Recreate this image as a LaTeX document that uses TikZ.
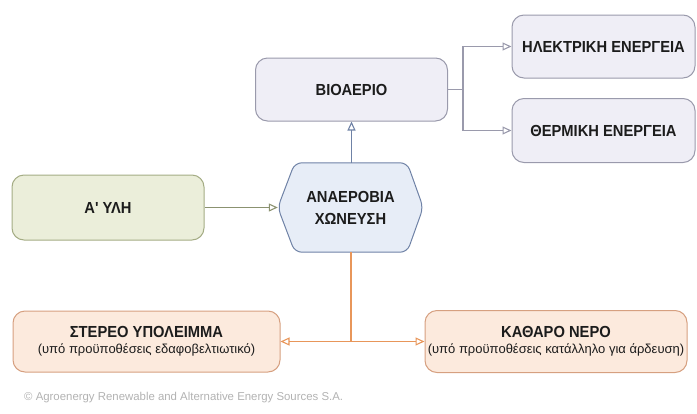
\documentclass[tikz,border=0pt]{standalone}
\usepackage{fontspec}
\setmainfont{Liberation Sans}
\newfontfamily\titlefont[FakeStretch=0.92]{Liberation Sans Bold}
\usetikzlibrary{arrows.meta,calc}
\definecolor{lavfill}{HTML}{EFEEF6}
\definecolor{lavline}{HTML}{9A9AAC}
\definecolor{hexfill}{HTML}{E7EDF7}
\definecolor{hexline}{HTML}{6F82A6}
\definecolor{grfill}{HTML}{EBEEDA}
\definecolor{grline}{HTML}{A4AC84}
\definecolor{orfill}{HTML}{FCEADD}
\definecolor{orline}{HTML}{D6A080}
\definecolor{orconn}{HTML}{E8965A}
\definecolor{txt}{HTML}{1C1C1C}
\tikzset{
  box/.style={draw, rounded corners=12pt, line width=1pt, inner sep=0pt, align=center, text=txt},
  lavbox/.style={box, draw=lavline, fill=lavfill},
  grbox/.style={box, draw=grline, fill=grfill},
  orbox/.style={box, draw=orline, fill=orfill},
  ttl/.style={font=\titlefont\fontsize{16}{22}\selectfont},
  conn/.style={line width=1.1pt, -{Triangle[open, length=9pt, width=8pt]}}
}
\begin{document}
\begin{tikzpicture}[x=1pt, y=-1pt]
\useasboundingbox (0,0) rectangle (697,413);
\node[lavbox, ttl, minimum width=192pt, minimum height=63pt] (bio) at (351.5,89.5) {ΒΙΟΑΕΡΙΟ};
\node[lavbox, ttl, minimum width=183pt, minimum height=63pt] (elec) at (603.5,46.5) {ΗΛΕΚΤΡΙΚΗ ΕΝΕΡΓΕΙΑ};
\node[lavbox, ttl, minimum width=183pt, minimum height=64pt] (therm) at (603.5,130.5) {ΘΕΡΜΙΚΗ ΕΝΕΡΓΕΙΑ};
\node[grbox, ttl, minimum width=192pt, minimum height=65pt] (yli) at (108,207.5) {Α' ΥΛΗ};
\node[minimum width=145pt, minimum height=89pt, inner sep=0pt] (hex) at (350.5,207.5) {};
\draw[hexline, fill=hexfill, line width=1pt, rounded corners=7pt]
  (hex.west) -- ($(hex.north west)+(17,0)$) -- ($(hex.north east)+(-16,0)$)
  -- (hex.east) -- ($(hex.south east)+(-16,0)$) -- ($(hex.south west)+(17,0)$) -- cycle;
\node[ttl, align=center, text=txt] (hextext) at (hex.center) {ΑΝΑΕΡΟΒΙΑ\\ΧΩΝΕΥΣΗ};
\node[orbox, minimum width=267pt, minimum height=61pt] (stereo) at (146.5,341.5)
  {{\titlefont\fontsize{16}{18}\selectfont ΣΤΕΡΕΟ ΥΠΟΛΕΙΜΜΑ}\\[4pt]{\fontsize{13}{14}\selectfont (υπό προϋποθέσεις εδαφοβελτιωτικό)}};
\node[orbox, minimum width=262pt, minimum height=62pt] (nero) at (556,341.5)
  {{\titlefont\fontsize{16}{18}\selectfont ΚΑΘΑΡΟ ΝΕΡΟ}\\[4pt]{\fontsize{13}{14}\selectfont (υπό προϋποθέσεις κατάλληλο για άρδευση)}};
\node[anchor=west, text=gray!60, font=\fontsize{11.4}{13}\selectfont, inner sep=0pt] (copy) at (24,398) {© Agroenergy Renewable and Alternative Energy Sources S.A.};
% connectors
\coordinate (fork) at (463,89.5);
\draw[conn, lavline] (bio.east) -- (fork) |- (elec.west);
\draw[conn, lavline] (bio.east) -- (fork) |- (therm.west);
\draw[conn, hexline] (hex.north -| bio.south) -- (bio.south);
\draw[conn, grline!85!black] (yli.east) -- (hex.west);
\draw[conn, orconn] (hex.south -| 351,0) |- (stereo.east);
\draw[conn, orconn] (hex.south -| 351,0) |- (nero.west);
\end{tikzpicture}
\end{document}
